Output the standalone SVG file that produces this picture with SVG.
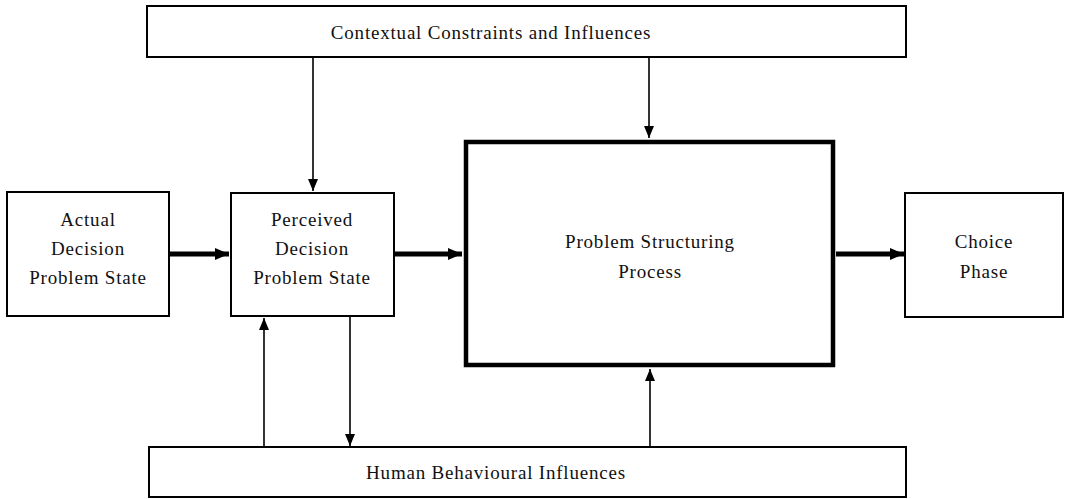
<svg xmlns="http://www.w3.org/2000/svg" width="1069" height="499" viewBox="0 0 1069 499">
  <style>
    .box { fill: #fff; stroke: #000; stroke-width: 2; }
    .heavy { fill: #fff; stroke: #000; stroke-width: 4.5; }
    .lbl { font-family: "Liberation Serif", "Times New Roman", serif; font-size: 19px; fill: #111; text-anchor: middle; letter-spacing: 0.8px; }
    .thin { stroke: #000; stroke-width: 1.6; fill: none; }
    .thick { stroke: #000; stroke-width: 5; fill: none; }
  </style>
  <defs>
    <marker id="headThin" markerUnits="userSpaceOnUse" viewBox="0 0 12 10" refX="12" refY="5" markerWidth="12" markerHeight="10" orient="auto">
      <path d="M0,0 L12,5 L0,10 Z" fill="#000"/>
    </marker>
    <marker id="headThick" markerUnits="userSpaceOnUse" viewBox="0 0 14 12" refX="14" refY="6" markerWidth="14" markerHeight="12" orient="auto">
      <path d="M0,0 L14,6 L0,12 Z" fill="#000"/>
    </marker>
  </defs>

  <g id="connectors">
    <line class="thin" x1="313" y1="57" x2="313" y2="191" marker-end="url(#headThin)"/>
    <line class="thin" x1="649" y1="57" x2="649" y2="138" marker-end="url(#headThin)"/>
    <line class="thin" x1="264" y1="447" x2="264" y2="318" marker-end="url(#headThin)"/>
    <line class="thin" x1="350" y1="317" x2="350" y2="446" marker-end="url(#headThin)"/>
    <line class="thin" x1="650" y1="447" x2="650" y2="369" marker-end="url(#headThin)"/>
    <line class="thick" x1="170" y1="254" x2="229" y2="254" marker-end="url(#headThick)"/>
    <line class="thick" x1="395" y1="254" x2="462" y2="254" marker-end="url(#headThick)"/>
    <line class="thick" x1="836" y1="254" x2="904" y2="254" marker-end="url(#headThick)"/>
  </g>

  <g id="contextual">
    <rect class="box" x="147" y="6" width="759" height="51"/>
    <text class="lbl" x="491" y="39">Contextual Constraints and Influences</text>
  </g>

  <g id="actual">
    <rect class="box" x="7" y="192" width="162" height="124"/>
    <text class="lbl" x="88" y="226">Actual</text>
    <text class="lbl" x="88" y="255">Decision</text>
    <text class="lbl" x="88" y="284">Problem State</text>
  </g>

  <g id="perceived">
    <rect class="box" x="231" y="193" width="163" height="123"/>
    <text class="lbl" x="312" y="226">Perceived</text>
    <text class="lbl" x="312" y="255">Decision</text>
    <text class="lbl" x="312" y="284">Problem State</text>
  </g>

  <g id="structuring">
    <rect class="heavy" x="466" y="142" width="367" height="223"/>
    <text class="lbl" x="650" y="248">Problem Structuring</text>
    <text class="lbl" x="650" y="278">Process</text>
  </g>

  <g id="choice">
    <rect class="box" x="905" y="193" width="158" height="124"/>
    <text class="lbl" x="984" y="248">Choice</text>
    <text class="lbl" x="984" y="278">Phase</text>
  </g>

  <g id="behavioural">
    <rect class="box" x="149" y="447" width="757" height="50"/>
    <text class="lbl" x="496" y="479">Human Behavioural Influences</text>
  </g>
</svg>
